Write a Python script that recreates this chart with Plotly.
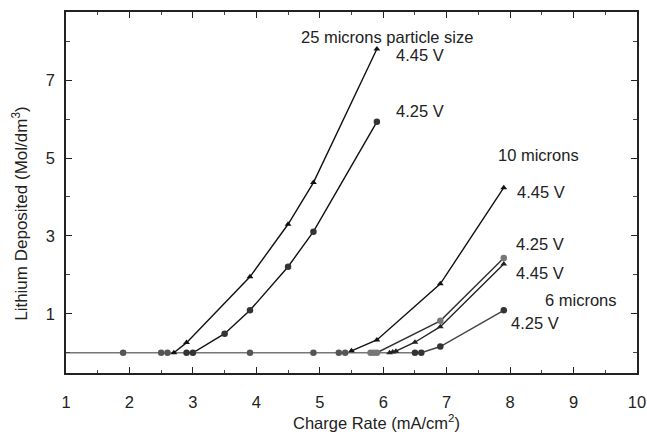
import plotly.graph_objects as go

# ---- data ----
x_25_445 = [2.7, 2.9, 3.9, 4.5, 4.9, 5.9]
y_25_445 = [0.0, 0.26, 1.95, 3.3, 4.37, 7.8]

x_25_425 = [2.9, 3.0, 3.5, 3.9, 4.5, 4.9, 5.9]
y_25_425 = [0.0, 0.0, 0.49, 1.09, 2.21, 3.11, 5.93]

x_10_445 = [5.5, 5.9, 6.9, 7.9]
y_10_445 = [0.05, 0.33, 1.77, 4.24]

x_10_425 = [5.8, 5.85, 5.9, 6.9, 7.9]
y_10_425 = [0.0, 0.0, 0.0, 0.82, 2.43]

x_6_445 = [6.1, 6.15, 6.2, 6.5, 6.9, 7.9]
y_6_445 = [0.0, 0.02, 0.04, 0.27, 0.67, 2.28]

x_6_425 = [6.5, 6.6, 6.9, 7.9]
y_6_425 = [0.0, 0.0, 0.16, 1.09]

x_base_line = [1.0, 6.6]
y_base_line = [0.0, 0.0]
x_base_pts = [1.9, 2.5, 2.6, 3.9, 4.9, 5.3, 5.4]
y_base_pts = [0, 0, 0, 0, 0, 0, 0]

x_ticks = [1, 2, 3, 4, 5, 6, 7, 8, 9, 10]
y_ticks = [1, 3, 5, 7]
y_minor = [0, 2, 4, 6, 8]

labels = [
    ("25 microns particle size", 6.06, 8.1, "center"),
    ("4.45 V", 6.17, 7.64, "left"),
    ("4.25 V", 6.17, 6.21, "left"),
    ("10 microns", 7.78, 5.08, "left"),
    ("4.45 V", 8.07, 4.14, "left"),
    ("4.25 V", 8.06, 2.79, "left"),
    ("4.45 V", 8.06, 2.04, "left"),
    ("6 microns", 8.52, 1.36, "left"),
    ("4.25 V", 7.98, 0.76, "left"),
]

FONT = "Liberation Sans, Arial, Helvetica, sans-serif"

fig = go.Figure()

fig.add_trace(go.Scatter(x=x_base_line, y=y_base_line, mode="lines",
                         line=dict(color="#777777", width=1.3), hoverinfo="skip"))
fig.add_trace(go.Scatter(x=x_base_pts, y=y_base_pts, mode="markers",
                         marker=dict(symbol="circle", size=6.5, color="#555555")))

def tri(x, y, color="#111111"):
    fig.add_trace(go.Scatter(x=x, y=y, mode="lines+markers",
                             line=dict(color=color, width=1.4),
                             marker=dict(symbol="triangle-up", size=6, color=color)))

def circ(x, y, color="#333333", mcolor="#333333", symbol="circle"):
    fig.add_trace(go.Scatter(x=x, y=y, mode="lines+markers",
                             line=dict(color=color, width=1.4),
                             marker=dict(symbol=symbol, size=6.5, color=mcolor)))

tri(x_25_445, y_25_445)
circ(x_25_425, y_25_425, color="#111111", mcolor="#333333")
tri(x_10_445, y_10_445)
circ(x_10_425, y_10_425, color="#333333", mcolor="#777777")
tri(x_6_445, y_6_445, color="#222222")
circ(x_6_425, y_6_425, color="#444444", mcolor="#333333")

for text, x, y, anchor in labels:
    fig.add_annotation(x=x, y=y, text=text, showarrow=False, xanchor=anchor,
                       yanchor="middle", font=dict(size=16.5, color="#222222", family=FONT))

fig.add_annotation(xref="paper", yref="paper", x=-0.081, y=0.443,
                   text="Lithium Deposited (Mol/dm<sup>3</sup>)", textangle=-90,
                   showarrow=False, xanchor="center", yanchor="middle",
                   font=dict(size=17, color="#222222", family=FONT))
fig.add_annotation(xref="paper", yref="paper", x=0.544, y=-0.135,
                   text="Charge Rate (mA/cm<sup>2</sup>)",
                   showarrow=False, xanchor="center", yanchor="middle",
                   font=dict(size=16.5, color="#222222", family=FONT))

fig.update_layout(
    width=647, height=438,
    margin=dict(l=66, r=10, t=12, b=65, autoexpand=False),
    paper_bgcolor="white", plot_bgcolor="white",
    showlegend=False,
    font=dict(family=FONT, size=16.5, color="#222222"),
    xaxis=dict(range=[1, 10], tickvals=x_ticks, ticktext=[str(v) for v in x_ticks],
               ticks="inside", ticklen=6, tickwidth=1.2, tickcolor="#222222",
               showline=True, linecolor="#222222", linewidth=1.6, mirror="ticks",
               showgrid=False, zeroline=False, ticklabelstandoff=13, automargin=False,
               minor=dict(dtick=0.5, ticks="inside", ticklen=3, tickcolor="#444444", showgrid=False)),
    yaxis=dict(range=[-0.52, 8.75], tickvals=y_ticks, ticktext=[str(v) for v in y_ticks],
               ticks="inside", ticklen=6, tickwidth=1.2, tickcolor="#222222",
               showline=True, linecolor="#222222", linewidth=1.6, mirror="ticks",
               showgrid=False, zeroline=False, ticklabelstandoff=6, automargin=False,
               minor=dict(tickvals=y_minor, ticks="inside", ticklen=4, tickcolor="#444444", showgrid=False)),
)

fig.write_html("out.html", config={"displayModeBar": False},
               post_script="document.body.style.margin='0';")
